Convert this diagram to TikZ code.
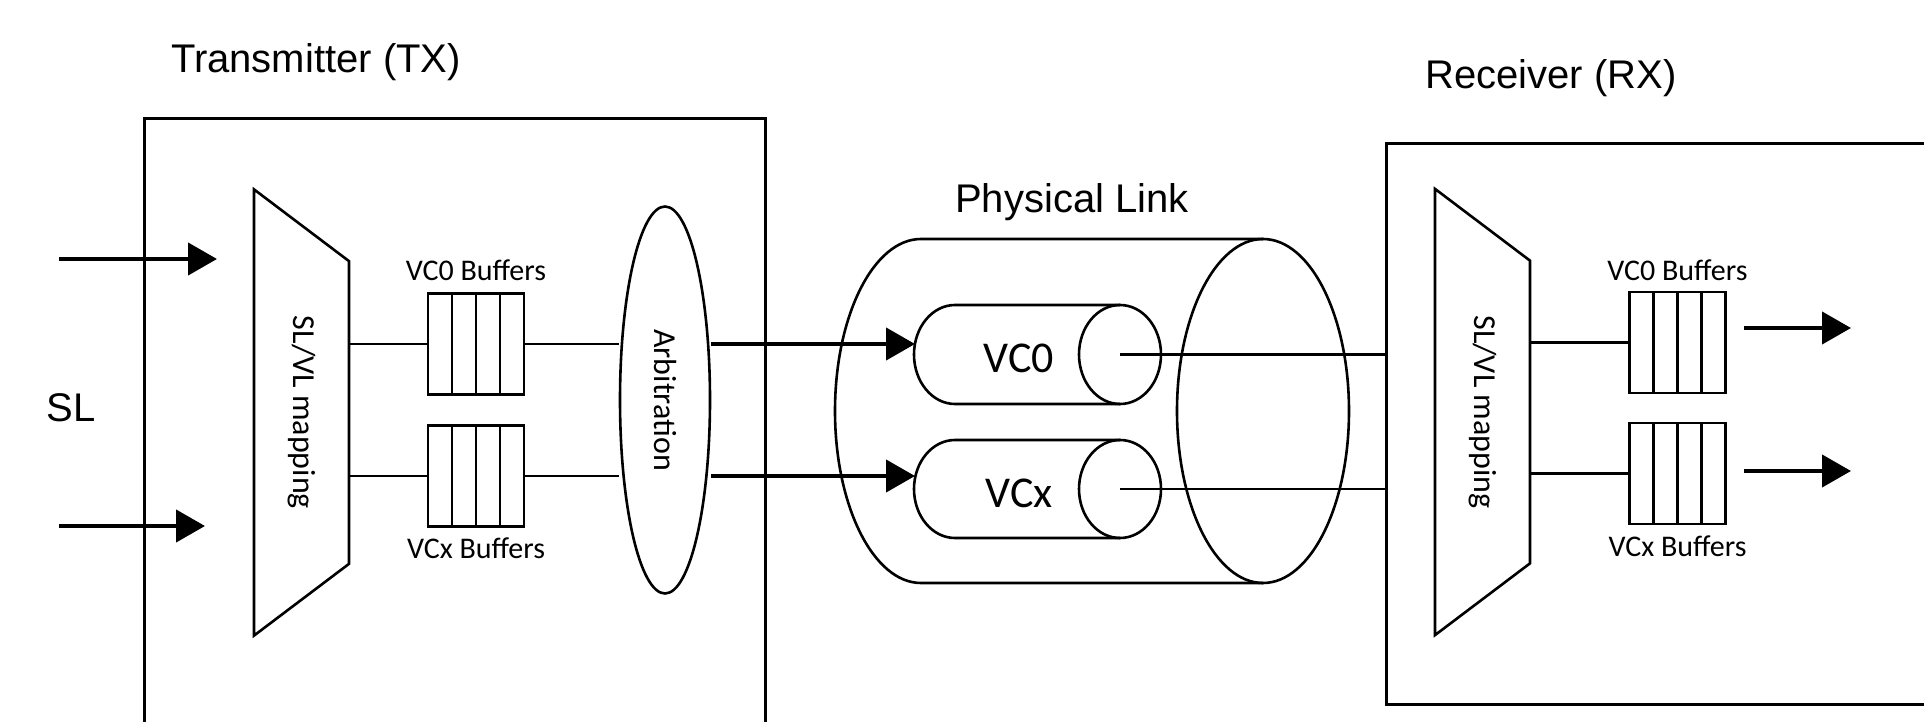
\documentclass[tikz,border=0pt]{standalone}
\usepackage{fontspec}
\setmainfont{Liberation Sans}
\newfontfamily\calibri{Carlito}
\usetikzlibrary{shapes.geometric, arrows.meta, positioning}
\tikzset{
  frame/.style = {rectangle, draw=black, line width=1.5pt, anchor=north west, inner sep=0pt},
  mapper/.style = {trapezium, trapezium stretches=true, trapezium left angle=40, trapezium right angle=40, rotate=-90, draw=black, line width=1.3pt, minimum width=223.5pt, minimum height=47.5pt, font=\calibri\fontsize{16}{19}\selectfont},
  buffer/.style = {rectangle, draw=black, line width=1.3pt, minimum width=48pt, minimum height=50.5pt, inner sep=0pt,
    path picture={\foreach \k in {1,2,3} \draw[line width=1.3pt] ([xshift=\k*12pt]path picture bounding box.south west) -- ([xshift=\k*12pt]path picture bounding box.north west);}},
  buflabel/.style = {inner sep=0pt, font=\calibri\fontsize{15}{18}\selectfont},
  arbiter/.style = {ellipse, draw=black, line width=1.3pt, rotate=-90, minimum width=193.5pt, minimum height=45pt, font=\calibri\fontsize{16}{19}\selectfont},
  pipebody/.style = {rectangle, inner sep=0pt, outer sep=0pt},
  vclabel/.style = {anchor=base, inner sep=0pt, font=\calibri\fontsize{22}{26}\selectfont},
  title/.style = {anchor=base, font=\fontsize{20}{24}\selectfont},
  wire/.style = {line width=1.3pt},
  arrow/.style = {-{Triangle[length=14.5pt,width=16pt]}, line width=2.2pt}
}

\begin{document}
\begin{tikzpicture}[x=0.5pt, y=-0.5pt]
\clip (0,0) rectangle (1924,722);

% Boxes and titles
\node[frame, minimum width=310.5pt, minimum height=330pt] (txbox) at (143,117) {};
\node[frame, minimum width=350pt, minimum height=280.5pt] (rxbox) at (1385,142) {};
\node[title] (txtitle) at (316,73) {Transmitter (TX)};
\node[title] (rxtitle) at (1551,89) {Receiver (RX)};
\node[title] (linktitle) at (1072,213) {Physical Link};
\node[title] (sl) at (71,421) {SL};

% Transmitter side
\node[mapper] (txmap) at (301.5,412.5) {SL/VL mapping};
\node[buffer] (tbuf0) at (476,344) {};
\node[buffer] (tbufx) at (476,476) {};
\node[buflabel, above=5.5pt of tbuf0] (tlab0) {VC0 Buffers};
\node[buflabel, below=5pt of tbufx] (tlabx) {VCx Buffers};
\node[arbiter] (arb) at (665,400) {Arbitration};

% Physical link: cylinder bodies, outlines drawn below
\node[pipebody, minimum width=171pt, minimum height=172pt] (link) at (1092,411) {};
\node[pipebody, minimum width=82.5pt, minimum height=49.5pt] (vc0) at (1037.5,354.5) {};
\node[pipebody, minimum width=82.5pt, minimum height=49pt] (vcx) at (1037.5,489) {};
\node[vclabel] (vc0txt) at ([xshift=-9.25pt, yshift=-9pt]vc0.center) {VC0};
\node[vclabel] (vcxtxt) at ([xshift=-9.25pt, yshift=-9pt]vcx.center) {VCx};

\foreach \c/\rx/\ry in {link/43pt/86pt, vc0/20.5pt/24.75pt, vcx/20.5pt/24.5pt}{
  \draw[wire] (\c.north east) -- (\c.north west) arc[start angle=90, end angle=270, x radius=\rx, y radius=\ry] -- (\c.south east);
  \draw[wire] (\c.east) ellipse[x radius=\rx, y radius=\ry];
}
\coordinate (vc0in) at ([xshift=-20pt]vc0.west);
\coordinate (vcxin) at ([xshift=-20pt]vcx.west);

% Receiver side
\node[mapper] (rxmap) at (1482.5,412) {SL/VL mapping};
\node[buffer] (rbuf0) at (1677.5,342.5) {};
\node[buffer] (rbufx) at (1677.5,473.5) {};
\node[buflabel, above=5pt of rbuf0] (rlab0) {VC0 Buffers};
\node[buflabel, below=5pt of rbufx] (rlabx) {VCx Buffers};

% Free ends of the arrows
\coordinate (in0) at (217,259);
\coordinate (in1) at (205,526);
\coordinate (out0) at (1851,328);
\coordinate (out1) at (1851,471);

% Connectors
\draw[arrow] (in0 -| 59,0) -- (in0);
\draw[arrow] (in1 -| 59,0) -- (in1);

\draw[wire] (tbuf0.west -| txmap.north) -- (tbuf0.west);
\draw[wire] (tbufx.west -| txmap.north) -- (tbufx.west);
\draw[wire] (tbuf0.east) -- (tbuf0.east -| arb.south);
\draw[wire] (tbufx.east) -- (tbufx.east -| arb.south);

\draw[arrow] (tbuf0.east -| arb.north) -- (tbuf0.east -| vc0in);
\draw[arrow] (tbufx.east -| arb.north) -- (tbufx.east -| vcxin);

\draw[wire] (vc0.east) -- (vc0.east -| rxbox.west);
\draw[wire] (vcx.east) -- (vcx.east -| rxbox.west);

\draw[wire] (rbuf0.west -| rxmap.north) -- (rbuf0.west);
\draw[wire] (rbufx.west -| rxmap.north) -- (rbufx.west);

\draw[arrow] ([xshift=8.5pt]rbuf0.east |- out0) -- (out0);
\draw[arrow] ([xshift=8.5pt]rbufx.east |- out1) -- (out1);

\end{tikzpicture}
\end{document}
